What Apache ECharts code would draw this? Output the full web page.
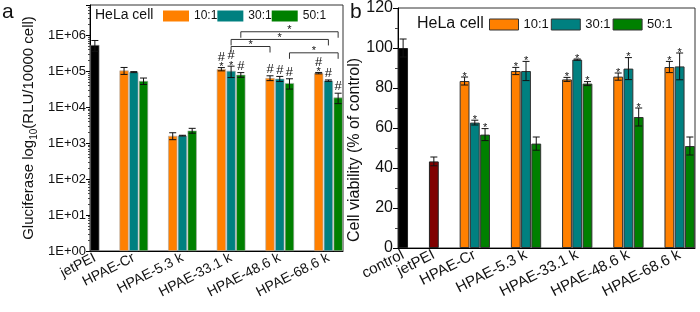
<!DOCTYPE html>
<html><head><meta charset="utf-8">
<script src="https://cdn.jsdelivr.net/npm/echarts@6/dist/echarts.min.js"></script>
<style>html,body{margin:0;padding:0;background:#fff}#c{width:700px;height:312px}</style>
</head><body><div id="c"></div>
<script>
// ---------- shared ----------
const ratioNames = ['10:1', '30:1', '50:1'];
const groupCats = ['HPAE-Cr', 'HPAE-5.3 k', 'HPAE-33.1 k', 'HPAE-48.6 k', 'HPAE-68.6 k'];

// ---------- panel a (log luciferase) ----------
const aSingleCats = ['jetPEI'];
const aSingleVals = [5.4e5];
const aSingleErr = [1.8e5];
const a10 = [1.05e5, 1.6e3, 1.15e5, 6.5e4, 8.9e4];
const a10Err = [2.3e4, 0.35e3, 1.2e4, 1.0e4, 0.4e4];
const a30 = [9.5e4, 1.62e3, 1.03e5, 6.2e4, 5.5e4];
const a30Err = [0.3e4, 0.04e3, 3.6e4, 1.0e4, 0.25e4];
const a50 = [5.4e4, 2.24e3, 8.0e4, 4.7e4, 1.86e4];
const a50Err = [1.1e4, 0.35e3, 1.2e4, 1.5e4, 6e3];
const a10Marks = ['', '', '#*', '#', '#*'];
const a30Marks = ['', '', '#*', '#', '#'];
const a50Marks = ['', '', '#', '#', '#'];
const aTickLabels = ['1E+00', '1E+01', '1E+02', '1E+03', '1E+04', '1E+05', '1E+06'];
// significance brackets: [fromGroup, fromRatio, toGroup, toRatio, level]
const aBrackets = [
  [2, 2, 4, 2, 1.26e6],
  [2, 1, 4, 1, 7.7e5],
  [2, 1, 3, 0, 4.9e5],
  [3, 2, 4, 2, 3.27e5]
];

// ---------- panel b (viability) ----------
const bSingleCats = ['control', 'jetPEI'];
const bSingleVals = [100, 43.3];
const bSingleErr = [4.5, 2.2];
const b10 = [83.5, 88.5, 84.3, 85.7, 90.5];
const b10Err = [2.0, 1.8, 1.0, 1.8, 2.8];
const b30 = [62.7, 88.5, 94.2, 89.7, 90.8];
const b30Err = [1.2, 4.8, 0.3, 5.5, 6.7];
const b50 = [56.7, 52.2, 82.2, 65.5, 51.0];
const b50Err = [3.0, 3.3, 1.0, 4.5, 4.5];
const b10Marks = ['*', '*', '*', '*', '*'];
const b30Marks = ['*', '*', '*', '*', '*'];
const b50Marks = ['*', '', '*', '*', ''];
const bTickLabels = ['0', '20', '40', '60', '80', '100', '120'];

// ---------- helpers ----------
const FONT = "'Liberation Sans', Arial, sans-serif";
const COLORS = ['#FF8000', '#008080', '#008000'];

function buildSlots(singles, groups) {
  const labels = [], singleSlot = [], groupSlot = [];
  singles.forEach(c => { if (labels.length) labels.push('', ''); singleSlot.push(labels.length); labels.push(c); });
  groups.forEach(c => { labels.push('', ''); groupSlot.push(labels.length); labels.push('', c, ''); });
  return { labels, singleSlot, groupSlot, ids: labels.map((_, i) => 's' + i) };
}
function slotArray(n, slots, vals) {
  const arr = new Array(n).fill(null);
  slots.forEach((s, i) => { arr[s] = vals[i]; });
  return arr;
}

function errSeries(ax, items, marks, cfg) {
  return {
    type: 'custom', xAxisIndex: ax, yAxisIndex: ax, silent: true, z: 5,
    data: items,
    encode: { x: 0, y: 1 },
    renderItem(p, api) {
      const x = api.value(0), v = api.value(1), e = api.value(2);
      const t = api.coord([x, v + e]), b = api.coord([x, v - e]);
      const hw = cfg.cap;
      const ls = { stroke: '#111', lineWidth: 1 };
      const ch = [
        { type: 'line', shape: { x1: t[0], y1: t[1], x2: b[0], y2: b[1] }, style: ls },
        { type: 'line', shape: { x1: t[0] - hw, y1: t[1], x2: t[0] + hw, y2: t[1] }, style: ls },
        { type: 'line', shape: { x1: b[0] - hw, y1: b[1], x2: b[0] + hw, y2: b[1] }, style: ls }
      ];
      const m = marks[p.dataIndex] || '';
      let y = t[1] - 1;
      if (m.indexOf('*') >= 0) {
        ch.push({ type: 'text', style: { text: '*', x: t[0], y: y + cfg.starShift, align: 'center', verticalAlign: 'bottom', fontSize: cfg.starSize, fontFamily: FONT, fill: '#111' } });
        y -= cfg.starStep;
      }
      if (m.indexOf('#') >= 0) {
        ch.push({ type: 'text', style: { text: '#', x: t[0], y: y + 1, align: 'center', verticalAlign: 'bottom', fontSize: 13, fontFamily: FONT, fill: '#111' } });
      }
      return { type: 'group', children: ch };
    }
  };
}

// ---------- build panel a ----------
const A = buildSlots(aSingleCats, groupCats);
const nA = A.labels.length;
const aVals = [a10, a30, a50], aErrs = [a10Err, a30Err, a50Err], aMarks = [a10Marks, a30Marks, a50Marks];
// ---------- build panel b ----------
const B = buildSlots(bSingleCats, groupCats);
const nB = B.labels.length;
const bVals = [b10, b30, b50], bErrs = [b10Err, b30Err, b50Err], bMarks = [b10Marks, b30Marks, b50Marks];

const series = [];
// panel a bars
series.push({
  type: 'bar', name: 'jetPEI-a', xAxisIndex: 0, yAxisIndex: 0, barGap: '-100%', barCategoryGap: '6%',
  data: slotArray(nA, A.singleSlot, aSingleVals),
  itemStyle: { color: '#000', borderColor: '#999', borderWidth: 0.6 }
});
ratioNames.forEach((r, k) => {
  series.push({
    type: 'bar', name: r, xAxisIndex: 0, yAxisIndex: 0, barGap: '-100%', barCategoryGap: '6%',
    data: slotArray(nA, A.groupSlot.map(s => s + k), aVals[k]),
    itemStyle: { color: COLORS[k], borderColor: '#aaa', borderWidth: 0.6 }
  });
});
// panel b bars
const bSingleColors = ['#000', '#800000'];
bSingleCats.forEach((c, i) => {
  series.push({
    type: 'bar', name: c + '-b', xAxisIndex: 1, yAxisIndex: 1, barGap: '-100%', barCategoryGap: '4%',
    data: slotArray(nB, [B.singleSlot[i]], [bSingleVals[i]]),
    itemStyle: { color: bSingleColors[i], borderColor: '#222', borderWidth: 1 }
  });
});
ratioNames.forEach((r, k) => {
  series.push({
    type: 'bar', name: r, xAxisIndex: 1, yAxisIndex: 1, barGap: '-100%', barCategoryGap: '4%',
    data: slotArray(nB, B.groupSlot.map(s => s + k), bVals[k]),
    itemStyle: { color: COLORS[k], borderColor: '#333', borderWidth: 1 }
  });
});
// error bars a
const aCfg = { cap: 3.5, starSize: 11, starShift: 6, starStep: 4 };
series.push(errSeries(0, A.singleSlot.map((s, i) => [s, aSingleVals[i], aSingleErr[i]]), [], aCfg));
ratioNames.forEach((r, k) => {
  series.push(errSeries(0, A.groupSlot.map((s, i) => [s + k, aVals[k][i], aErrs[k][i]]), aMarks[k], aCfg));
});
// error bars b
const bCfg = { cap: 3.5, starSize: 11, starShift: 6, starStep: 4 };
series.push(errSeries(1, B.singleSlot.map((s, i) => [s, bSingleVals[i], bSingleErr[i]]), [], bCfg));
ratioNames.forEach((r, k) => {
  series.push(errSeries(1, B.groupSlot.map((s, i) => [s + k, bVals[k][i], bErrs[k][i]]), bMarks[k], bCfg));
});
// brackets a
series.push({
  type: 'custom', xAxisIndex: 0, yAxisIndex: 0, silent: true, z: 6,
  data: aBrackets.map(b => [A.groupSlot[b[0]] + b[1], A.groupSlot[b[2]] + b[3], b[4]]),
  encode: { x: [0, 1], y: 2 },
  renderItem(p, api) {
    const p1 = api.coord([api.value(0), api.value(2)]);
    const p2 = api.coord([api.value(1), api.value(2)]);
    const leg = 6;
    return {
      type: 'group', children: [
        { type: 'polyline', shape: { points: [[p1[0], p1[1] + leg], [p1[0], p1[1]], [p2[0], p2[1]], [p2[0], p2[1] + leg]] }, style: { stroke: '#333', lineWidth: 1, fill: null } },
        { type: 'text', style: { text: '*', x: (p1[0] + p2[0]) / 2, y: p1[1] + 4, align: 'center', verticalAlign: 'bottom', fontSize: 11, fontFamily: FONT, fill: '#111' } }
      ]
    };
  }
});

const xAxisCommon = (labels, ids, gi, fs) => ({
  type: 'category', gridIndex: gi, data: ids, boundaryGap: true,
  axisLine: { show: true, lineStyle: { color: '#000', width: 1 } },
  axisTick: { show: false },
  axisLabel: { interval: 0, rotate: 27, fontSize: fs, fontFamily: FONT, color: '#111', margin: 6,
    formatter: (v, i) => labels[i] }
});

const option = {
  animation: false,
  backgroundColor: '#fff',
  title: [
    { text: 'a', left: 2, top: 2, padding: 0, textStyle: { fontSize: 21, fontWeight: 'normal', fontFamily: FONT, color: '#111' } },
    { text: 'b', left: 350, top: 2, padding: 0, textStyle: { fontSize: 21, fontWeight: 'normal', fontFamily: FONT, color: '#111' } },
    { text: 'HeLa cell', left: 95, top: 8, padding: 0, textStyle: { fontSize: 14, fontWeight: 'normal', fontFamily: FONT, color: '#111' } },
    { text: 'HeLa cell', left: 417, top: 16, padding: 0, textStyle: { fontSize: 16, fontWeight: 'normal', fontFamily: FONT, color: '#111' } }
  ],
  legend: [
    { data: ratioNames, left: 163, top: 10, padding: 0, itemWidth: 26, itemHeight: 11, itemGap: 0, icon: 'rect',
      itemStyle: { borderWidth: 0 }, textStyle: { fontSize: 12, fontFamily: FONT, color: '#111' }, selectedMode: false },
    { data: ratioNames, left: 489, top: 18, padding: 0, itemWidth: 29, itemHeight: 11, itemGap: 2, icon: 'rect',
      itemStyle: { borderColor: '#333', borderWidth: 1 }, textStyle: { fontSize: 13, fontFamily: FONT, color: '#111' }, selectedMode: false }
  ],
  grid: [
    { left: 90, top: 5, width: 253, height: 246, show: true, borderColor: '#333', borderWidth: 1, backgroundColor: 'transparent' },
    { left: 398, top: 8, width: 297, height: 240, show: true, borderColor: '#333', borderWidth: 1, backgroundColor: 'transparent' }
  ],
  xAxis: [ xAxisCommon(A.labels, A.ids, 0, 14), xAxisCommon(B.labels, B.ids, 1, 15) ],
  yAxis: [
    { type: 'log', logBase: 10, gridIndex: 0, min: 1, max: 7e6,
      axisLine: { show: true, lineStyle: { color: '#000' } },
      axisTick: { show: true, inside: false, length: 4, lineStyle: { color: '#000' } },
      minorTick: { show: true, splitNumber: 9, length: 2, lineStyle: { color: '#444' } },
      splitLine: { show: false },
      axisLabel: { fontSize: 13, fontFamily: FONT, color: '#111', margin: 4,
        formatter: v => { const l = Math.log10(v), r = Math.round(l); return Math.abs(l - r) < 1e-6 && aTickLabels[r] ? aTickLabels[r] : ''; } },
      name: '{m|Gluciferase log}{s|10}{m|(RLU/10000 cell)}', nameLocation: 'middle', nameGap: 53,
      nameTextStyle: { fontFamily: FONT, color: '#111', rich: {
        m: { fontSize: 15, fontFamily: FONT, color: '#111', verticalAlign: 'top', lineHeight: 16 },
        s: { fontSize: 10, fontFamily: FONT, color: '#111', verticalAlign: 'top', lineHeight: 10, padding: [8, 0, 0, 0] } } }
    },
    { type: 'value', gridIndex: 1, min: 0, max: 120, interval: 20,
      axisLine: { show: true, lineStyle: { color: '#000' } },
      axisTick: { show: true, inside: false, length: 5, lineStyle: { color: '#000' } },
      minorTick: { show: true, splitNumber: 2, length: 3, lineStyle: { color: '#444' } },
      splitLine: { show: false },
      axisLabel: { fontSize: 16, fontFamily: FONT, color: '#111', margin: 5,
        formatter: v => bTickLabels[Math.round(v / 20)] },
      name: 'Cell viability (% of control)', nameLocation: 'middle', nameGap: 34,
      nameTextStyle: { fontSize: 16, fontFamily: FONT, color: '#111', padding: [0, 44, 0, 0] }
    }
  ],
  series
};
const chart = echarts.init(document.getElementById('c'), null, { renderer: 'canvas' });
chart.setOption(option);
</script></body></html>
